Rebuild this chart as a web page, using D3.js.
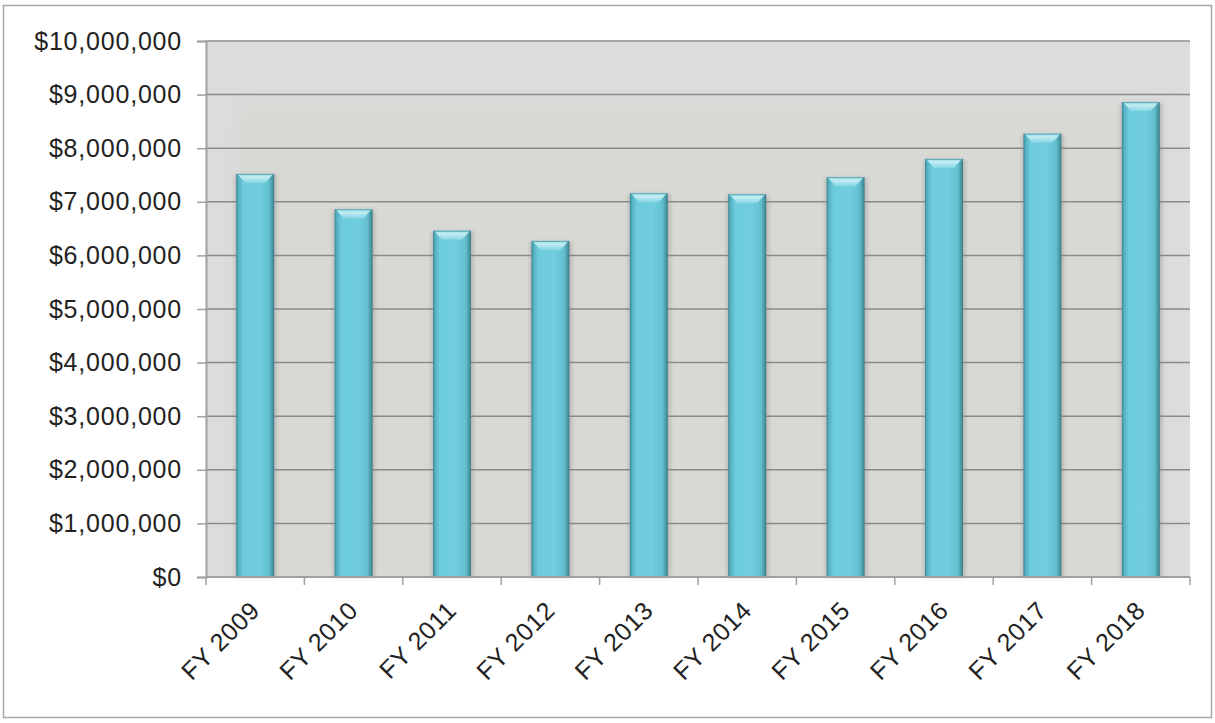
<!DOCTYPE html>
<html><head><meta charset="utf-8">
<script src="https://cdn.jsdelivr.net/npm/d3@7"></script>
<style>html,body{margin:0;padding:0;background:#fff}svg{display:block}</style>
</head><body>
<svg id="chart" width="1215" height="723"></svg>
<script>
const categories = ["FY 2009","FY 2010","FY 2011","FY 2012","FY 2013","FY 2014","FY 2015","FY 2016","FY 2017","FY 2018"];
const values = [7520000, 6860000, 6460000, 6270000, 7160000, 7140000, 7460000, 7800000, 8270000, 8860000];
const yTicks = [0,1000000,2000000,3000000,4000000,5000000,6000000,7000000,8000000,9000000,10000000];

const svg = d3.select("#chart");
const W = 1215, H = 723;
const m = {left:206, right:1190, top:41, bottom:577};
const FONT = "Liberation Sans, Arial, sans-serif";

// outer border
svg.append("rect").attr("x",3.5).attr("y",5.5).attr("width",W-7).attr("height",H-11)
  .attr("fill","#fff").attr("stroke","#a6a6a6").attr("stroke-width",1.5);

const defs = svg.append("defs");
const bg = defs.append("linearGradient").attr("id","bodyG").attr("x1",0).attr("x2",1).attr("y1",0).attr("y2",0);
[[0,"#3a8793"],[0.06,"#55b2c3"],[0.18,"#6ccbdc"],[0.6,"#70cede"],[0.86,"#63c0d1"],[0.95,"#4a9aa7"],[1,"#357985"]]
  .forEach(([o,c])=>bg.append("stop").attr("offset",o).attr("stop-color",c));
const tg = defs.append("linearGradient").attr("id","topG").attr("x1",0).attr("x2",0).attr("y1",0).attr("y2",1);
[[0,"#9bdbe6"],[0.35,"#c2edf3"],[1,"#86d5e3"]].forEach(([o,c])=>tg.append("stop").attr("offset",o).attr("stop-color",c));
const blur = defs.append("filter").attr("id","blur").attr("x","-20%").attr("y","-20%").attr("width","140%").attr("height","140%");
blur.append("feGaussianBlur").attr("stdDeviation",10);
const sh = defs.append("filter").attr("id","shadow").attr("x","-30%").attr("y","-10%").attr("width","160%").attr("height","120%");
sh.append("feGaussianBlur").attr("stdDeviation",2);

const x = d3.scaleBand().domain(categories).range([m.left, m.right]).paddingInner(0.615).paddingOuter(0.3075);
const y = d3.scaleLinear().domain([0,10000000]).range([m.bottom, m.top]);

// plot background
const clip = defs.append("clipPath").attr("id","pclip");
clip.append("rect").attr("x",m.left).attr("y",m.top).attr("width",m.right-m.left).attr("height",m.bottom-m.top);
svg.append("rect").attr("x",m.left).attr("y",m.top).attr("width",m.right-m.left).attr("height",m.bottom-m.top)
  .attr("fill","#dcdcdf");
svg.append("g").attr("clip-path","url(#pclip)").append("rect")
  .attr("x",m.left+30).attr("y",y(9000000)+6).attr("width",m.right-m.left-60).attr("height",m.bottom-y(9000000)+20)
  .attr("fill","#d8d8d4").attr("filter","url(#blur)");

// gridlines
svg.append("g").selectAll("line").data(yTicks.filter(d=>d>0)).join("line")
  .attr("x1",m.left).attr("x2",m.right).attr("y1",d=>y(d)).attr("y2",d=>y(d))
  .attr("stroke",d=>d===10000000?"#a8a8a8":"#8a8a8a").attr("stroke-width",d=>d===10000000?2:1.5);

// bars
const bars = svg.append("g").selectAll("g").data(values).join("g");
bars.append("rect")
  .attr("x",(d,i)=>x(categories[i])-1).attr("y",d=>y(d)+1)
  .attr("width",x.bandwidth()+3).attr("height",d=>y(0)-y(d)-1)
  .attr("fill","#808080").attr("opacity",0.45).attr("filter","url(#shadow)");
bars.append("rect")
  .attr("x",(d,i)=>x(categories[i])).attr("y",d=>y(d))
  .attr("width",x.bandwidth()).attr("height",d=>y(0)-y(d))
  .attr("fill","url(#bodyG)");
// top bevel
bars.append("path")
  .attr("d",(d,i)=>{
    const x0 = x(categories[i]), x1 = x0 + x.bandwidth(), t = y(d), b = 9;
    return `M${x0+1},${t}L${x1-1},${t}L${x1-b},${t+b}L${x0+b},${t+b}Z`;
  })
  .attr("fill","url(#topG)");
bars.append("line")
  .attr("x1",(d,i)=>x(categories[i])+1).attr("x2",(d,i)=>x(categories[i])+x.bandwidth()-1)
  .attr("y1",d=>y(d)+0.5).attr("y2",d=>y(d)+0.5).attr("stroke","#5aa9b6").attr("stroke-width",1);

// axes
const yAxis = d3.axisLeft(y).tickValues(yTicks).tickSize(9).tickPadding(15)
  .tickFormat(d=>"$"+d3.format(",")(d));
const gy = svg.append("g").attr("transform",`translate(${m.left},0)`).call(yAxis);
gy.select(".domain").attr("stroke","#a0a0a0").attr("stroke-width",2);
gy.selectAll(".tick line").attr("stroke","#a0a0a0").attr("stroke-width",1.5);
gy.selectAll(".tick text").attr("font-family",FONT).attr("font-size",25)
  .attr("letter-spacing","0.8px").attr("fill","#222");

const tickPos = categories.map(c=>x(c)-x.step()*x.paddingInner()/2).concat([m.right]);
const gx = svg.append("g");
gx.append("line").attr("x1",m.left).attr("x2",m.right).attr("y1",m.bottom).attr("y2",m.bottom)
  .attr("stroke","#a0a0a0").attr("stroke-width",2);
gx.selectAll("line.t").data(tickPos).join("line").attr("class","t")
  .attr("x1",d=>d).attr("x2",d=>d).attr("y1",m.bottom).attr("y2",m.bottom+8)
  .attr("stroke","#a0a0a0").attr("stroke-width",1.5);
gx.selectAll("text").data(categories).join("text")
  .attr("transform",d=>`translate(${x(d)+x.bandwidth()/2+6},612) rotate(-45)`)
  .attr("text-anchor","end")
  .attr("font-family",FONT).attr("font-size",25).attr("letter-spacing","0.6px").attr("fill","#222")
  .text(d=>d);
</script>
</body></html>
